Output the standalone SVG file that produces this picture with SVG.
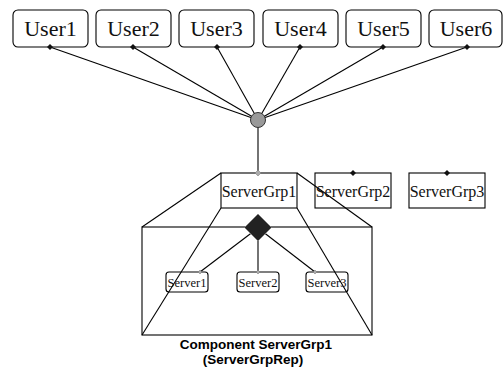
<svg xmlns="http://www.w3.org/2000/svg" width="503" height="368" viewBox="0 0 503 368">
<style>
.box{fill:#fff;stroke:#000;stroke-width:1.1}
.ln{stroke:#000;stroke-width:1.1;fill:none}
.ut{font-family:"Liberation Serif",serif;font-size:22px;text-anchor:middle;fill:#111}
.gt{font-family:"Liberation Serif",serif;font-size:16px;text-anchor:middle;fill:#111}
.st{font-family:"Liberation Serif",serif;font-size:12.5px;text-anchor:middle;fill:#111}
.lb{font-family:"Liberation Sans",Arial,sans-serif;font-size:13.5px;font-weight:bold;text-anchor:middle;fill:#000}
.dk{fill:#111}
.lt{fill:#aaa;stroke:#777;stroke-width:0.5}
</style>
<g id="connectors">
<line class="ln" x1="50" y1="47" x2="258" y2="120"/>
<line class="ln" x1="133" y1="47" x2="258" y2="120"/>
<line class="ln" x1="217" y1="47" x2="258" y2="120"/>
<line class="ln" x1="300" y1="47" x2="258" y2="120"/>
<line class="ln" x1="383" y1="47" x2="258" y2="120"/>
<line class="ln" x1="467" y1="47" x2="258" y2="120"/>
<line class="ln" x1="258" y1="120" x2="258" y2="173"/>
</g>
<g id="User1"><rect class="box" x="13" y="10" width="75" height="37" rx="5"/><text class="ut" x="50.5" y="36">User1</text><path class="dk" d="M50 44l3 3-3 3-3-3z"/></g>
<g id="User2"><rect class="box" x="96" y="10" width="75" height="37" rx="5"/><text class="ut" x="133.5" y="36">User2</text><path class="dk" d="M133 44l3 3-3 3-3-3z"/></g>
<g id="User3"><rect class="box" x="179" y="10" width="75" height="37" rx="5"/><text class="ut" x="216.5" y="36">User3</text><path class="dk" d="M217 44l3 3-3 3-3-3z"/></g>
<g id="User4"><rect class="box" x="263" y="10" width="75" height="37" rx="5"/><text class="ut" x="300.5" y="36">User4</text><path class="dk" d="M300 44l3 3-3 3-3-3z"/></g>
<g id="User5"><rect class="box" x="346" y="10" width="75" height="37" rx="5"/><text class="ut" x="383.5" y="36">User5</text><path class="dk" d="M383 44l3 3-3 3-3-3z"/></g>
<g id="User6"><rect class="box" x="429" y="10" width="73" height="37" rx="5"/><text class="ut" x="466" y="36">User6</text><path class="dk" d="M467 44l3 3-3 3-3-3z"/></g>
<g id="hub"><circle cx="258" cy="120" r="7.5" fill="#999" stroke="#333" stroke-width="1"/></g>
<g id="ServerGrp1Rep">
<rect class="ln" x="142" y="227" width="230" height="108"/>
<line class="ln" x1="221" y1="173" x2="142" y2="227"/>
<line class="ln" x1="297" y1="173" x2="372" y2="227"/>
<line class="ln" x1="221" y1="208" x2="142" y2="335"/>
<line class="ln" x1="297" y1="208" x2="372" y2="335"/>
<text class="lb" x="256" y="349">Component ServerGrp1</text>
<text class="lb" x="253" y="364">(ServerGrpRep)</text>
</g>
<g id="ServerGrp1"><rect class="box" x="221" y="173" width="76" height="35" style="fill:none"/><text class="gt" x="259" y="197">ServerGrp1</text><path class="lt" d="M258 170l3 3-3 3-3-3z"/></g>
<g id="ServerGrp2"><rect class="box" x="315" y="173" width="76" height="35" style="fill:none"/><text class="gt" x="353" y="197">ServerGrp2</text><path class="dk" d="M353 170l3 3-3 3-3-3z"/></g>
<g id="ServerGrp3"><rect class="box" x="409" y="173" width="76" height="35"/><text class="gt" x="447" y="197">ServerGrp3</text><path class="dk" d="M447 170l3 3-3 3-3-3z"/></g>
<g id="innerConnectors">
<line class="ln" x1="258" y1="228" x2="200" y2="272"/>
<line class="ln" x1="258" y1="228" x2="258" y2="272"/>
<line class="ln" x1="258" y1="228" x2="315" y2="272"/>
</g>
<g id="rep"><path d="M258 214l13.5 13.5-13.5 13.5-13.5-13.5z" fill="#222" stroke="#888" stroke-width="0.8"/></g>
<g id="Server1"><rect class="box" x="166" y="272" width="42" height="20" rx="3" style="fill:none"/><text class="st" x="187" y="287">Server1</text><path class="lt" d="M200 270l2 2-2 2-2-2z"/></g>
<g id="Server2"><rect class="box" x="237" y="272" width="42" height="20" rx="3"/><text class="st" x="258" y="287">Server2</text><path class="lt" d="M258 270l2 2-2 2-2-2z"/></g>
<g id="Server3"><rect class="box" x="306" y="272" width="42" height="20" rx="3" style="fill:none"/><text class="st" x="327" y="287">Server3</text><path class="lt" d="M315 270l2 2-2 2-2-2z"/></g>
</svg>
